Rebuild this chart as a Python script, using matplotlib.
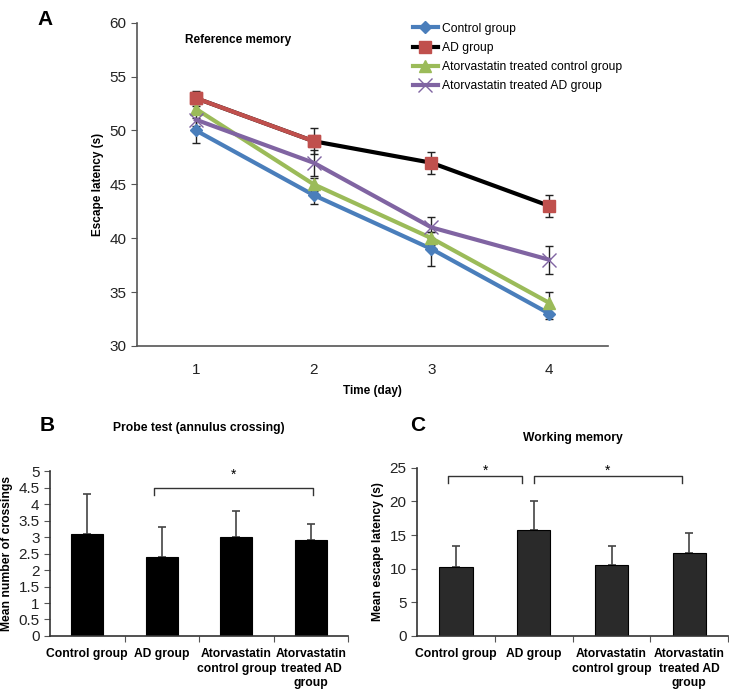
import matplotlib
matplotlib.use("Agg")
import matplotlib.pyplot as plt
from matplotlib.lines import Line2D
import numpy as np

plt.rcParams['font.family'] = ['Liberation Sans', 'DejaVu Sans']

# panel A data
days = [1, 2, 3, 4]
ctrl = [50, 44, 39, 33]
ctrl_err = [1.2, 0.8, 1.6, 0.5]
ad = [53, 49, 47, 43]
ad_err = [0.7, 1.2, 1.0, 1.0]
at_ctrl = [52, 45, 40, 34]
at_ctrl_err = [0.5, 0.6, 0.6, 1.0]
at_ad = [51, 47, 41, 38]
at_ad_err = [0.6, 1.2, 1.0, 1.3]

# panels B and C data
groups = ["Control group", "AD group", "Atorvastatin\ncontrol group", "Atorvastatin\ntreated AD\ngroup"]
crossings = [3.1, 2.4, 3.0, 2.9]
crossings_err = [1.2, 0.9, 0.8, 0.5]
work_lat = [10.2, 15.8, 10.5, 12.3]
work_lat_err = [3.2, 4.2, 2.9, 3.0]

axis_col = '#555555'

fig = plt.figure(figsize=(7.29, 6.89), dpi=100)

# ---- A ----
ax = fig.add_axes([0.188, 0.498, 0.646, 0.469])
ax.errorbar(days, ctrl, yerr=ctrl_err, color='#4a7ebb', lw=3, marker='D', ms=6,
            ecolor='#222222', elinewidth=1, capsize=3, zorder=3)
ax.errorbar(days, ad, yerr=ad_err, color='black', lw=3, marker='s', ms=9,
            mfc='#c0504d', mec='#c0504d', ecolor='#222222', elinewidth=1, capsize=3, zorder=2)
ax.plot(days[:2], ad[:2], color='#c0504d', lw=3, zorder=2.5)
ax.plot(days[:2], ad[:2], ls='none', marker='s', ms=9, color='#c0504d', zorder=4)
ax.errorbar(days, at_ctrl, yerr=at_ctrl_err, color='#9bbb59', lw=3, marker='^', ms=8,
            ecolor='#222222', elinewidth=1, capsize=3, zorder=3)
ax.errorbar(days, at_ad, yerr=at_ad_err, color='#8064a2', lw=3, marker='x', ms=10,
            mew=1, ecolor='#222222', elinewidth=1, capsize=3, zorder=3)
ax.set_xlim(0.5, 4.5)
ax.set_ylim(30, 60)
ax.set_xticks(days)
ax.set_yticks(np.arange(30, 61, 5))
ax.tick_params(axis='x', length=0, pad=12, labelsize=11, colors='#222222')
ax.tick_params(axis='y', length=4, direction='out', labelsize=11, colors=axis_col, labelcolor='#222222')
for s in ['top', 'right']:
    ax.spines[s].set_visible(False)
for s in ['left', 'bottom']:
    ax.spines[s].set_color(axis_col)
    ax.spines[s].set_linewidth(1.2)
ax.set_ylabel('Escape latency (s)', fontsize=8.5, fontweight='bold', labelpad=4)
ax.set_xlabel('Time (day)', fontsize=8.5, fontweight='bold', labelpad=6)
ax.text(1.36, 58.1, 'Reference memory', fontsize=8.5, fontweight='bold', ha='center')
handles = [
    Line2D([], [], color='#4a7ebb', lw=3, marker='D', ms=6),
    Line2D([], [], color='black', lw=3, marker='s', ms=9, mfc='#c0504d', mec='#c0504d'),
    Line2D([], [], color='#9bbb59', lw=3, marker='^', ms=8),
    Line2D([], [], color='#8064a2', lw=3, marker='x', ms=10, mew=1),
]
labels = ['Control group', 'AD group', 'Atorvastatin treated control group', 'Atorvastatin treated AD group']
ax.legend(handles, labels, loc='upper left', bbox_to_anchor=(0.575, 1.015), frameon=False,
          fontsize=8.7, handlelength=2.1, handletextpad=0.35, labelspacing=0.6, borderaxespad=0)
fig.text(0.052, 0.985, 'A', fontsize=15, fontweight='bold', va='top')


def bar_panel(rect, vals, errs, labels, ylim, yticks, ylabel, color):
    a = fig.add_axes(rect)
    x = np.arange(len(vals))
    a.bar(x, vals, width=0.43, color=color, edgecolor='black', lw=0.8, zorder=2)
    a.errorbar(x, vals, yerr=[np.zeros(len(errs)), errs], ls='none', ecolor='#444444',
               elinewidth=1.2, capsize=3, capthick=1.2, zorder=1)
    a.set_xlim(-0.5, len(vals) - 0.5)
    a.set_ylim(*ylim)
    a.set_yticks(yticks)
    a.set_yticklabels([f'{t:g}' for t in yticks])
    a.set_xticks(np.arange(len(vals)) + 0.5)
    a.set_xticklabels([])
    a.set_xticks(x, minor=True)
    a.set_xticklabels(labels, minor=True, fontsize=8.7, fontweight='bold', linespacing=1.25)
    a.tick_params(axis='x', which='major', length=4, direction='out', colors=axis_col)
    a.tick_params(axis='x', which='minor', length=0, pad=9)
    a.tick_params(axis='y', length=4, direction='out', labelsize=11, colors=axis_col, labelcolor='#222222')
    for s in ['top', 'right']:
        a.spines[s].set_visible(False)
    for s in ['left', 'bottom']:
        a.spines[s].set_color('#333333')
        a.spines[s].set_linewidth(1.2)
    a.set_ylabel(ylabel, fontsize=8.7, fontweight='bold', labelpad=4)
    return a


def bracket(a, x0, x1, y, drop, star_y):
    a.plot([x0, x0, x1, x1], [y - drop, y, y, y - drop], color='#333333', lw=1, clip_on=False)
    a.text((x0 + x1) / 2, star_y, '*', ha='center', va='center', fontsize=10)


# ---- B ----
axb = bar_panel([0.0686, 0.077, 0.409, 0.239], crossings, crossings_err, groups, (0, 5),
                np.arange(0, 5.01, 0.5), 'Mean number of crossings', 'black')
bracket(axb, 0.89, 3.03, 4.5, 0.22, 4.88)
axb.set_title('Probe test (annulus crossing)', fontsize=8.7, fontweight='bold', pad=29)
fig.text(0.055, 0.383, 'B', fontsize=15, fontweight='bold', va='center')

# ---- C ----
axc = bar_panel([0.572, 0.077, 0.427, 0.244], work_lat, work_lat_err, groups, (0, 25),
                np.arange(0, 26, 5), 'Mean escape latency (s)', '#2a2a2a')
bracket(axc, -0.1, 0.85, 23.8, 1.1, 24.6)
bracket(axc, 1.0, 2.9, 23.8, 1.1, 24.6)
axc.set_title('Working memory', fontsize=8.7, fontweight='bold', pad=19)
fig.text(0.563, 0.383, 'C', fontsize=15, fontweight='bold', va='center')

fig.savefig('out.png', dpi=100)
